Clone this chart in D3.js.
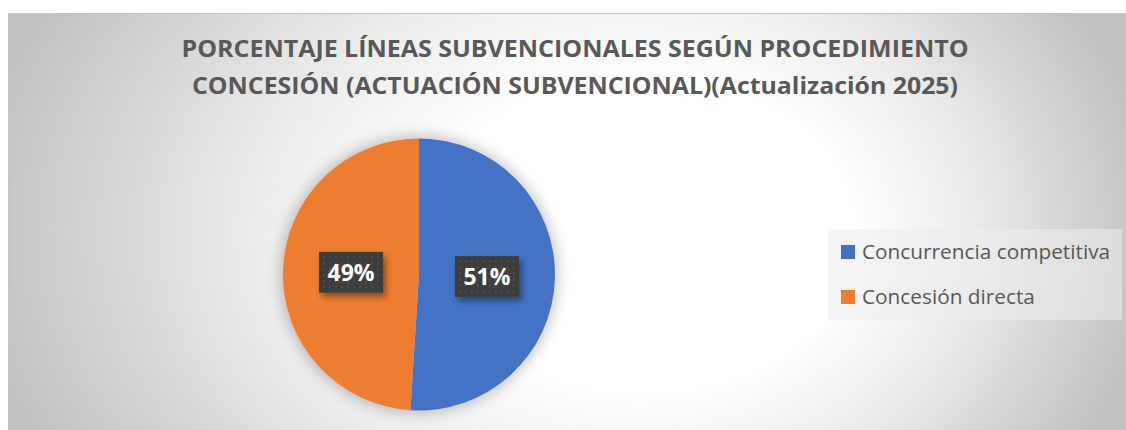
<!DOCTYPE html>
<html>
<head>
<meta charset="utf-8">
<script src="https://cdn.jsdelivr.net/npm/d3@7"></script>
<style>
  body { margin: 0; background: #fff; }
  svg { display: block; }
</style>
</head>
<body>
<div id="chart"></div>
<script>
// chart data
const categories = ["Concurrencia competitiva", "Concesión directa"];
const values = [51, 49];
const colors = ["#4472C4", "#ED7D31"];
const titleLines = [
  "PORCENTAJE LÍNEAS SUBVENCIONALES SEGÚN PROCEDIMIENTO",
  "CONCESIÓN (ACTUACIÓN SUBVENCIONAL)(Actualización 2025)"
];

const width = 1126;
const height = 430;

var svg = d3.select("#chart")
    .append("svg")
    .attr("width", width)
    .attr("height", height);

var defs = svg.append("defs");

// background gradient, lighter a bit right of centre
var grad = defs.append("radialGradient")
    .attr("id", "bg")
    .attr("gradientUnits", "userSpaceOnUse")
    .attr("cx", 560).attr("cy", 230)
    .attr("fx", 690).attr("fy", 240)
    .attr("r", 600)
    .attr("gradientTransform", "translate(0," + (230 - 0.75 * 230) + ") scale(1,0.75)");
grad.append("stop").attr("offset", 0).attr("stop-color", "#ffffff");
grad.append("stop").attr("offset", 0.35).attr("stop-color", "#ffffff");
grad.append("stop").attr("offset", 0.6).attr("stop-color", "#ebebeb");
grad.append("stop").attr("offset", 1).attr("stop-color", "#c0c0c0");

// soft glow around the pie
var glow = defs.append("filter").attr("id", "glow")
    .attr("x", "-30%").attr("y", "-30%").attr("width", "160%").attr("height", "160%");
glow.append("feGaussianBlur").attr("stdDeviation", 7);

// shadow under the label boxes
var shadow = defs.append("filter").attr("id", "boxShadow")
    .attr("x", "-30%").attr("y", "-30%").attr("width", "160%").attr("height", "160%");
shadow.append("feGaussianBlur").attr("in", "SourceAlpha").attr("stdDeviation", 3).attr("result", "b");
shadow.append("feOffset").attr("in", "b").attr("dx", 3).attr("dy", 4).attr("result", "o");
shadow.append("feComponentTransfer").attr("in", "o").attr("result", "s")
    .append("feFuncA").attr("type", "linear").attr("slope", 0.4);
var merge = shadow.append("feMerge");
merge.append("feMergeNode").attr("in", "s");
merge.append("feMergeNode").attr("in", "SourceGraphic");

// dotted fill for the label boxes
var pat = defs.append("pattern")
    .attr("id", "dots")
    .attr("patternUnits", "userSpaceOnUse")
    .attr("width", 6).attr("height", 6);
pat.append("rect").attr("width", 6).attr("height", 6).attr("fill", "#3d3d3d");
pat.append("rect").attr("x", 2).attr("y", 2).attr("width", 1.6).attr("height", 1.6).attr("fill", "#565656");

// chart area
svg.append("rect")
    .attr("x", 8.5).attr("y", 13.5)
    .attr("width", width + 20).attr("height", height + 20)
    .attr("fill", "url(#bg)")
    .attr("stroke", "#c4c4c4");

// title
svg.selectAll(".title")
    .data(titleLines)
    .enter().append("text")
    .attr("class", "title")
    .attr("x", 575)
    .attr("y", (d, i) => 57 + i * 37)
    .attr("text-anchor", "middle")
    .attr("textLength", (d, i) => i === 0 ? 787 : 766)
    .attr("lengthAdjust", "spacingAndGlyphs")
    .style("font-family", "'Open Sans', sans-serif")
    .style("font-weight", "bold")
    .style("font-size", "24px")
    .style("fill", "#595959")
    .text(d => d);

// pie
const radius = 136;
const cx = 419, cy = 274.5;
var pie = d3.pie().sort(null).value(d => d);
var arc = d3.arc().innerRadius(0).outerRadius(radius);
var arcs = pie(values);
const total = d3.sum(values);

var g = svg.append("g").attr("transform", "translate(" + cx + "," + cy + ")");

g.append("circle")
    .attr("r", radius + 3)
    .attr("fill", "#000")
    .attr("opacity", 0.22)
    .attr("filter", "url(#glow)");

g.selectAll(".slice")
    .data(arcs)
    .enter().append("path")
    .attr("class", "slice")
    .attr("d", arc)
    .attr("fill", (d, i) => colors[i]);

// data labels
var lab = g.selectAll(".label")
    .data(arcs)
    .enter().append("g")
    .attr("class", "label")
    .attr("transform", d => "translate(" + arc.centroid(d) + ")");

lab.append("rect")
    .attr("x", -32).attr("y", -20.5)
    .attr("width", 64).attr("height", 41)
    .attr("fill", "url(#dots)")
    .attr("filter", "url(#boxShadow)");

lab.append("text")
    .attr("text-anchor", "middle")
    .attr("y", 8.5)
    .style("font-family", "'Open Sans', sans-serif")
    .style("font-weight", "bold")
    .style("font-size", "23px")
    .style("fill", "#ffffff")
    .text(d => Math.round(d.value / total * 100) + "%");

// legend
var legend = svg.append("g");
legend.append("rect")
    .attr("x", 828).attr("y", 229)
    .attr("width", 294).attr("height", 91)
    .attr("fill", "#ececec")
    .attr("fill-opacity", 0.55);

var item = legend.selectAll(".item")
    .data(categories)
    .enter().append("g")
    .attr("class", "item")
    .attr("transform", (d, i) => "translate(841," + (245 + i * 45) + ")");

item.append("rect")
    .attr("width", 14).attr("height", 14)
    .attr("fill", (d, i) => colors[i]);

item.append("text")
    .attr("x", 21)
    .attr("y", 14)
    .style("font-family", "'Open Sans', sans-serif")
    .style("font-size", "20.8px")
    .style("fill", "#595959")
    .text(d => d);
</script>
</body>
</html>
